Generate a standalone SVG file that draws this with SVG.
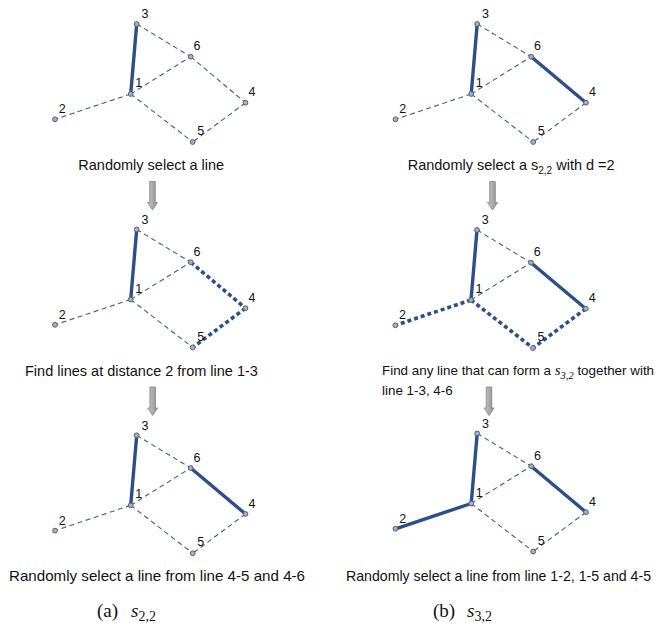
<svg xmlns="http://www.w3.org/2000/svg" width="663" height="633" viewBox="0 0 663 633">
<style>
.dash{stroke:#3f5f8f;stroke-width:1.1;stroke-dasharray:5 3.5;fill:none}
.thick{stroke:#2c4f8c;stroke-width:3.4;fill:none;stroke-linecap:round}
.dot{stroke:#2c4f8c;stroke-width:3.6;stroke-dasharray:4 3;fill:none}
.nd{fill:#aab0bc;stroke:#4f5f78;stroke-width:1}
.lb{font-family:"Liberation Sans",Arial,sans-serif;font-size:12.5px;fill:#111;text-anchor:middle}
.tx{font-family:"Liberation Sans",Arial,sans-serif;font-size:14.5px;fill:#111}
.tx2{font-family:"Liberation Sans",Arial,sans-serif;font-size:13.4px;fill:#111}
.cap{font-family:"Liberation Serif","Times New Roman",serif;font-size:19px;fill:#111}
.arr{fill:url(#g);stroke:#7a7a7a;stroke-width:0.7}
</style>
<defs>
<linearGradient id="g" x1="0" y1="0" x2="1" y2="0">
<stop offset="0" stop-color="#c9c9c9"/><stop offset="1" stop-color="#8e8e8e"/>
</linearGradient>
<path id="arrow" d="M-2.8,0 H2.8 V21 H5 L0,28.5 L-5,21 H-2.8 Z"/>
</defs>
<rect width="663" height="633" fill="#fff"/>

<!-- Panel a1 -->
<g id="panel-a1">
<g id="a1-connectors">
<line class="dash" x1="130.7" y1="94" x2="55" y2="119.3"/>
<line class="dash" x1="130.7" y1="94" x2="192.7" y2="142"/>
<line class="dash" x1="130.7" y1="94" x2="190.7" y2="56.7"/>
<line class="dash" x1="136.7" y1="24" x2="190.7" y2="56.7"/>
<line class="dash" x1="190.7" y1="56.7" x2="245.5" y2="102.7"/>
<line class="dash" x1="245.5" y1="102.7" x2="192.7" y2="142"/>
<line class="thick" x1="130.7" y1="94" x2="136.7" y2="24"/>
</g>
<g id="a1-n1"><circle class="nd" cx="130.7" cy="94" r="2.4"/><text class="lb" x="138.7" y="87">1</text></g>
<g id="a1-n2"><circle class="nd" cx="55" cy="119.3" r="2.4"/><text class="lb" x="62.3" y="113.3">2</text></g>
<g id="a1-n3"><circle class="nd" cx="136.7" cy="24" r="2.4"/><text class="lb" x="145" y="18.3">3</text></g>
<g id="a1-n4"><circle class="nd" cx="245.5" cy="102.7" r="2.4"/><text class="lb" x="252" y="96.3">4</text></g>
<g id="a1-n5"><circle class="nd" cx="192.7" cy="142" r="2.4"/><text class="lb" x="200.7" y="135">5</text></g>
<g id="a1-n6"><circle class="nd" cx="190.7" cy="56.7" r="2.4"/><text class="lb" x="197" y="50.3">6</text></g>
</g>

<!-- Panel b1 -->
<g id="panel-b1" transform="translate(340.5,0)">
<g id="b1-connectors">
<line class="dash" x1="130.7" y1="94" x2="55" y2="119.3"/>
<line class="dash" x1="130.7" y1="94" x2="192.7" y2="142"/>
<line class="dash" x1="130.7" y1="94" x2="190.7" y2="56.7"/>
<line class="dash" x1="136.7" y1="24" x2="190.7" y2="56.7"/>
<line class="dash" x1="245.5" y1="102.7" x2="192.7" y2="142"/>
<line class="thick" x1="190.7" y1="56.7" x2="245.5" y2="102.7"/>
<line class="thick" x1="130.7" y1="94" x2="136.7" y2="24"/>
</g>
<g id="b1-n1"><circle class="nd" cx="130.7" cy="94" r="2.4"/><text class="lb" x="138.7" y="87">1</text></g>
<g id="b1-n2"><circle class="nd" cx="55" cy="119.3" r="2.4"/><text class="lb" x="62.3" y="113.3">2</text></g>
<g id="b1-n3"><circle class="nd" cx="136.7" cy="24" r="2.4"/><text class="lb" x="145" y="18.3">3</text></g>
<g id="b1-n4"><circle class="nd" cx="245.5" cy="102.7" r="2.4"/><text class="lb" x="252" y="96.3">4</text></g>
<g id="b1-n5"><circle class="nd" cx="192.7" cy="142" r="2.4"/><text class="lb" x="200.7" y="135">5</text></g>
<g id="b1-n6"><circle class="nd" cx="190.7" cy="56.7" r="2.4"/><text class="lb" x="197" y="50.3">6</text></g>
</g>

<!-- Panel a2 -->
<g id="panel-a2" transform="translate(0,205.5)">
<g id="a2-connectors">
<line class="dash" x1="130.7" y1="94" x2="55" y2="119.3"/>
<line class="dash" x1="130.7" y1="94" x2="192.7" y2="142"/>
<line class="dash" x1="130.7" y1="94" x2="190.7" y2="56.7"/>
<line class="dash" x1="136.7" y1="24" x2="190.7" y2="56.7"/>
<line class="dot" x1="190.7" y1="56.7" x2="245.5" y2="102.7"/>
<line class="dot" x1="245.5" y1="102.7" x2="192.7" y2="142"/>
<line class="thick" x1="130.7" y1="94" x2="136.7" y2="24"/>
</g>
<g id="a2-n1"><circle class="nd" cx="130.7" cy="94" r="2.4"/><text class="lb" x="138.7" y="87">1</text></g>
<g id="a2-n2"><circle class="nd" cx="55" cy="119.3" r="2.4"/><text class="lb" x="62.3" y="113.3">2</text></g>
<g id="a2-n3"><circle class="nd" cx="136.7" cy="24" r="2.4"/><text class="lb" x="145" y="18.3">3</text></g>
<g id="a2-n4"><circle class="nd" cx="245.5" cy="102.7" r="2.4"/><text class="lb" x="252" y="96.3">4</text></g>
<g id="a2-n5"><circle class="nd" cx="192.7" cy="142" r="2.4"/><text class="lb" x="200.7" y="135">5</text></g>
<g id="a2-n6"><circle class="nd" cx="190.7" cy="56.7" r="2.4"/><text class="lb" x="197" y="50.3">6</text></g>
</g>

<!-- Panel b2 -->
<g id="panel-b2" transform="translate(340.3,206)">
<g id="b2-connectors">
<line class="dash" x1="130.7" y1="94" x2="190.7" y2="56.7"/>
<line class="dash" x1="136.7" y1="24" x2="190.7" y2="56.7"/>
<line class="dot" x1="130.7" y1="94" x2="55" y2="119.3"/>
<line class="dot" x1="130.7" y1="94" x2="192.7" y2="142"/>
<line class="dot" x1="245.5" y1="102.7" x2="192.7" y2="142"/>
<line class="thick" x1="190.7" y1="56.7" x2="245.5" y2="102.7"/>
<line class="thick" x1="130.7" y1="94" x2="136.7" y2="24"/>
</g>
<g id="b2-n1"><circle class="nd" cx="130.7" cy="94" r="2.4"/><text class="lb" x="138.7" y="87">1</text></g>
<g id="b2-n2"><circle class="nd" cx="55" cy="119.3" r="2.4"/><text class="lb" x="62.3" y="113.3">2</text></g>
<g id="b2-n3"><circle class="nd" cx="136.7" cy="24" r="2.4"/><text class="lb" x="145" y="18.3">3</text></g>
<g id="b2-n4"><circle class="nd" cx="245.5" cy="102.7" r="2.4"/><text class="lb" x="252" y="96.3">4</text></g>
<g id="b2-n5"><circle class="nd" cx="192.7" cy="142" r="2.4"/><text class="lb" x="200.7" y="135">5</text></g>
<g id="b2-n6"><circle class="nd" cx="190.7" cy="56.7" r="2.4"/><text class="lb" x="197" y="50.3">6</text></g>
</g>

<!-- Panel a3 -->
<g id="panel-a3" transform="translate(0,411.3)">
<g id="a3-connectors">
<line class="dash" x1="130.7" y1="94" x2="55" y2="119.3"/>
<line class="dash" x1="130.7" y1="94" x2="192.7" y2="142"/>
<line class="dash" x1="130.7" y1="94" x2="190.7" y2="56.7"/>
<line class="dash" x1="136.7" y1="24" x2="190.7" y2="56.7"/>
<line class="dash" x1="245.5" y1="102.7" x2="192.7" y2="142"/>
<line class="thick" x1="190.7" y1="56.7" x2="245.5" y2="102.7"/>
<line class="thick" x1="130.7" y1="94" x2="136.7" y2="24"/>
</g>
<g id="a3-n1"><circle class="nd" cx="130.7" cy="94" r="2.4"/><text class="lb" x="138.7" y="87">1</text></g>
<g id="a3-n2"><circle class="nd" cx="55" cy="119.3" r="2.4"/><text class="lb" x="62.3" y="113.3">2</text></g>
<g id="a3-n3"><circle class="nd" cx="136.7" cy="24" r="2.4"/><text class="lb" x="145" y="18.3">3</text></g>
<g id="a3-n4"><circle class="nd" cx="245.5" cy="102.7" r="2.4"/><text class="lb" x="252" y="96.3">4</text></g>
<g id="a3-n5"><circle class="nd" cx="192.7" cy="142" r="2.4"/><text class="lb" x="200.7" y="135">5</text></g>
<g id="a3-n6"><circle class="nd" cx="190.7" cy="56.7" r="2.4"/><text class="lb" x="197" y="50.3">6</text></g>
</g>

<!-- Panel b3 -->
<g id="panel-b3" transform="translate(340.5,409.5)">
<g id="b3-connectors">
<line class="dash" x1="130.7" y1="94" x2="192.7" y2="142"/>
<line class="dash" x1="130.7" y1="94" x2="190.7" y2="56.7"/>
<line class="dash" x1="136.7" y1="24" x2="190.7" y2="56.7"/>
<line class="dash" x1="245.5" y1="102.7" x2="192.7" y2="142"/>
<line class="thick" x1="130.7" y1="94" x2="55" y2="119.3"/>
<line class="thick" x1="190.7" y1="56.7" x2="245.5" y2="102.7"/>
<line class="thick" x1="130.7" y1="94" x2="136.7" y2="24"/>
</g>
<g id="b3-n1"><circle class="nd" cx="130.7" cy="94" r="2.4"/><text class="lb" x="138.7" y="87">1</text></g>
<g id="b3-n2"><circle class="nd" cx="55" cy="119.3" r="2.4"/><text class="lb" x="62.3" y="113.3">2</text></g>
<g id="b3-n3"><circle class="nd" cx="136.7" cy="24" r="2.4"/><text class="lb" x="145" y="18.3">3</text></g>
<g id="b3-n4"><circle class="nd" cx="245.5" cy="102.7" r="2.4"/><text class="lb" x="252" y="96.3">4</text></g>
<g id="b3-n5"><circle class="nd" cx="192.7" cy="142" r="2.4"/><text class="lb" x="200.7" y="135">5</text></g>
<g id="b3-n6"><circle class="nd" cx="190.7" cy="56.7" r="2.4"/><text class="lb" x="197" y="50.3">6</text></g>
</g>

<!-- Step arrows -->
<g id="step-arrows">
<use href="#arrow" class="arr" x="152.5" y="181.5"/>
<use href="#arrow" class="arr" x="492.5" y="181.5"/>
<use href="#arrow" class="arr" x="152.7" y="387"/>
<use href="#arrow" class="arr" x="489" y="387"/>
</g>

<!-- Step texts -->
<g id="texts">
<text class="tx" x="78.3" y="170">Randomly select a line</text>
<text class="tx" x="407.7" y="170">Randomly select a s<tspan font-size="10" dy="4">2,2</tspan><tspan dy="-4"> with d =2</tspan></text>
<text class="tx" x="25" y="375.5">Find lines at distance 2 from line 1-3</text>
<text class="tx2" x="382" y="375">Find any line that can form a <tspan font-family="Liberation Serif,serif" font-style="italic" font-size="15">s</tspan><tspan font-family="Liberation Serif,serif" font-style="italic" font-size="10.5" dy="3.5">3,2</tspan><tspan dy="-3.5"> together with</tspan></text>
<text class="tx2" x="382" y="394.5">line 1-3, 4-6</text>
<text class="tx" x="9" y="581" textLength="296" lengthAdjust="spacingAndGlyphs">Randomly select a line from line 4-5 and 4-6</text>
<text class="tx" x="346" y="581" textLength="305" lengthAdjust="spacingAndGlyphs">Randomly select a line from line 1-2, 1-5 and 4-5</text>
</g>

<!-- Captions -->
<g id="captions">
<text class="cap" x="97" y="617">(a)<tspan x="131" font-style="italic">s</tspan><tspan font-size="14" dy="3.5">2,2</tspan></text>
<text class="cap" x="433" y="617">(b)<tspan x="467" font-style="italic">s</tspan><tspan font-size="14" dy="3.5">3,2</tspan></text>
</g>
</svg>
